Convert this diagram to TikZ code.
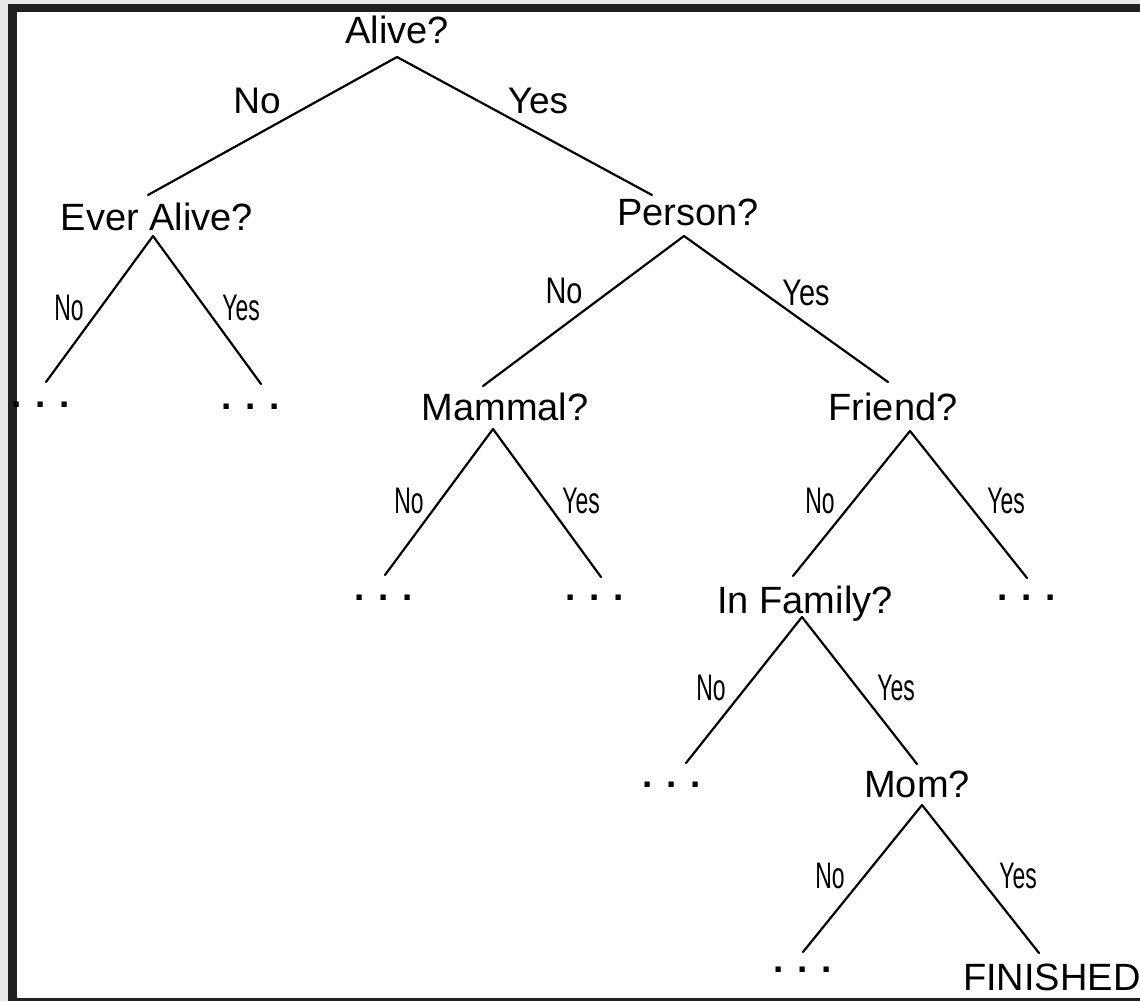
\documentclass[tikz,border=0pt]{standalone}
\usepackage{fontspec}
\setmainfont{Liberation Sans}
\newfontfamily\narrowA[FakeStretch=0.62]{Liberation Sans}
\newfontfamily\narrowB[FakeStretch=0.78]{Liberation Sans}
\definecolor{frameDark}{HTML}{202020}
\definecolor{frameLight}{HTML}{E9E9E9}
\begin{document}
\begin{tikzpicture}[x=1pt,y=-1pt,
  q/.style={anchor=base,inner sep=0pt,font=\fontsize{38}{40}\selectfont},
  lab/.style={anchor=base,inner sep=0pt,font=\fontsize{37}{40}\selectfont},
  labn/.style={anchor=base,inner sep=0pt,font=\fontsize{37}{40}\selectfont\narrowA},
  labm/.style={anchor=base,inner sep=0pt,font=\fontsize{37}{40}\selectfont\narrowB},
  dots/.style={anchor=base,inner sep=0pt,font=\fontsize{37}{40}\selectfont\bfseries},
  edge/.style={line width=2.2pt,line cap=round}]
\useasboundingbox (0,0) rectangle (1140,1001);
\clip (0,0) rectangle (1140,1001);
% frame
\fill[white] (0,0) rectangle (1140,1001);
\fill[frameLight] (0,0) rectangle (1140,4);
\fill[frameLight] (0,0) rectangle (8,1001);
\fill[frameDark] (8,4) rectangle (1140,12);
\fill[frameDark] (8,4) rectangle (17,1001);
\fill[frameDark] (8,998) rectangle (1140,1001);

% question nodes
\node[q] (alive) at (397,43) {Alive?};
\node[q] (ever) at (157,230) {Ever Alive?};
\node[q] (person) at (688,225) {Person?};
\node[q] (mammal) at (505,420) {Mammal?};
\node[q] (friend) at (893,420) {Friend?};
\node[q] (family) at (805,613) {In Family?};
\node[q] (mom) at (917,797) {Mom?};
\node[q,anchor=base west] (finished) at (963,990) {FINISHED};

% leaves
\node[dots] (eaNo) at (41,407) {. . .};
\node[dots] (eaYes) at (251,409) {. . .};
\node[dots] (maNo) at (384,600) {. . .};
\node[dots] (maYes) at (595,600) {. . .};
\node[dots] (frYes) at (1027,600) {. . .};
\node[dots] (ifNo) at (672,787) {. . .};
\node[dots] (moNo) at (803,972) {. . .};

% connector tips
\coordinate (aliveB) at (397,57);
\coordinate (everT) at (148,195);
\coordinate (personT) at (652,195);
\coordinate (everB) at (153,236);
\coordinate (eaNoT) at (46,382);
\coordinate (eaYesT) at (261,384);
\coordinate (personB) at (684,236);
\coordinate (mammalT) at (483,386);
\coordinate (friendT) at (888,382);
\coordinate (mammalB) at (493,429);
\coordinate (maNoT) at (385,575);
\coordinate (maYesT) at (601,577);
\coordinate (friendB) at (910,431);
\coordinate (familyT) at (793,576);
\coordinate (frYesT) at (1027,578);
\coordinate (familyB) at (802,617);
\coordinate (ifNoT) at (686,763);
\coordinate (momT) at (917,764);
\coordinate (momB) at (922,805);
\coordinate (moNoT) at (803,952);
\coordinate (finishedT) at (1039,953);

% connectors
\draw[edge] (aliveB) -- (everT);
\draw[edge] (aliveB) -- (personT);
\draw[edge] (everB) -- (eaNoT);
\draw[edge] (everB) -- (eaYesT);
\draw[edge] (personB) -- (mammalT);
\draw[edge] (personB) -- (friendT);
\draw[edge] (mammalB) -- (maNoT);
\draw[edge] (mammalB) -- (maYesT);
\draw[edge] (friendB) -- (familyT);
\draw[edge] (friendB) -- (frYesT);
\draw[edge] (familyB) -- (ifNoT);
\draw[edge] (familyB) -- (momT);
\draw[edge] (momB) -- (moNoT);
\draw[edge] (momB) -- (finishedT);

% edge labels
\node[lab] (lAliveNo) at (257,113) {No};
\node[lab] (lAliveYes) at (538,113) {Yes};
\node[labn] (lEverNo) at (69,320) {No};
\node[labn] (lEverYes) at (241,320) {Yes};
\node[labm] (lPersonNo) at (564,303) {No};
\node[labm] (lPersonYes) at (806,305) {Yes};
\node[labn] (lMammalNo) at (409,513) {No};
\node[labn] (lMammalYes) at (581,513) {Yes};
\node[labn] (lFriendNo) at (820,513) {No};
\node[labn] (lFriendYes) at (1006,513) {Yes};
\node[labn] (lFamilyNo) at (711,700) {No};
\node[labn] (lFamilyYes) at (896,700) {Yes};
\node[labn] (lMomNo) at (830,888) {No};
\node[labn] (lMomYes) at (1018,888) {Yes};
\end{tikzpicture}
\end{document}
